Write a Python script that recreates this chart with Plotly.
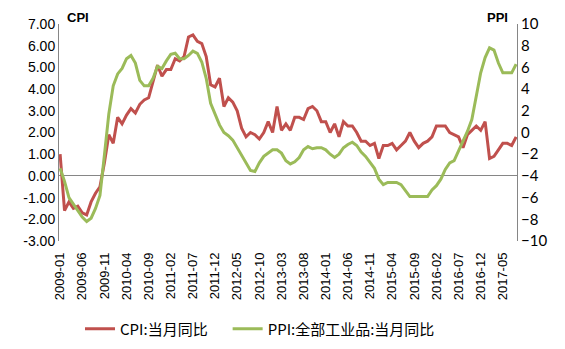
import plotly.graph_objects as go

months = [f"{y}-{m:02d}" for y in range(2009, 2018) for m in range(1, 13)][:104]

cpi = [1.0, -1.6, -1.2, -1.5, -1.4, -1.7, -1.8, -1.2, -0.8, -0.5, 0.6, 1.9,
       1.5, 2.7, 2.4, 2.8, 3.1, 2.9, 3.3, 3.5, 3.6, 4.4, 5.1, 4.6,
       4.9, 4.9, 5.4, 5.3, 5.5, 6.4, 6.5, 6.2, 6.1, 5.5, 4.2, 4.1,
       4.5, 3.2, 3.6, 3.4, 3.0, 2.2, 1.8, 2.0, 1.9, 1.7, 2.0, 2.5,
       2.0, 3.2, 2.1, 2.4, 2.1, 2.7, 2.7, 2.6, 3.1, 3.2, 3.0, 2.5,
       2.5, 2.0, 2.4, 1.8, 2.5, 2.3, 2.3, 2.0, 1.6, 1.6, 1.4, 1.5,
       0.8, 1.4, 1.4, 1.5, 1.2, 1.4, 1.6, 2.0, 1.6, 1.3, 1.5, 1.6,
       1.8, 2.3, 2.3, 2.3, 2.0, 1.9, 1.8, 1.3, 1.9, 2.1, 2.3, 2.1,
       2.5, 0.8, 0.9, 1.2, 1.5, 1.5, 1.4, 1.8]

ppi = [-3.3, -4.5, -6.0, -6.6, -7.2, -7.8, -8.2, -7.9, -7.0, -5.8, -2.1, 1.7,
       4.3, 5.4, 5.9, 6.8, 7.1, 6.4, 4.8, 4.3, 4.3, 5.0, 6.1, 5.9,
       6.6, 7.2, 7.3, 6.8, 6.8, 7.1, 7.5, 7.3, 6.5, 5.0, 2.7, 1.7,
       0.7, 0.0, -0.3, -0.7, -1.4, -2.1, -2.9, -3.5, -3.6, -2.8, -2.2, -1.9,
       -1.6, -1.6, -1.9, -2.6, -2.9, -2.7, -2.3, -1.6, -1.3, -1.5, -1.4, -1.4,
       -1.6, -2.0, -2.3, -2.0, -1.4, -1.1, -0.9, -1.2, -1.8, -2.2, -2.7, -3.3,
       -4.3, -4.8, -4.6, -4.6, -4.6, -4.8, -5.4, -5.9, -5.9, -5.9, -5.9, -5.9,
       -5.3, -4.9, -4.3, -3.4, -2.8, -2.6, -1.7, -0.8, 0.1, 1.2, 3.3, 5.5,
       6.9, 7.8, 7.6, 6.4, 5.5, 5.5, 5.5, 6.3]

tick_labels = months[::5]

left_ticks = [7, 6, 5, 4, 3, 2, 1, 0, -1, -2, -3]
right_ticks = [10, 8, 6, 4, 2, 0, -2, -4, -6, -8, -10]

names = ["CPI:当月同比", "PPI:全部工业品:当月同比"]
colors = ["#C0504D", "#9BBB59"]

fig = go.Figure()
fig.add_trace(go.Scatter(x=months, y=cpi, name=names[0] + "\u3000", mode="lines",
                         line=dict(color=colors[0], width=3), yaxis="y"))
fig.add_trace(go.Scatter(x=months, y=ppi, name=names[1], mode="lines",
                         line=dict(color=colors[1], width=3), yaxis="y2"))

axis_font = dict(family="Liberation Sans, Arial, sans-serif", size=13, color="#000000")

fig.update_layout(
    width=565, height=349,
    margin=dict(l=59, r=48, t=24, b=108, autoexpand=False),
    paper_bgcolor="white", plot_bgcolor="white",
    showlegend=True,
    legend=dict(orientation="h", xref="container", yref="container",
                x=80 / 565, xanchor="left", y=1 - 329 / 349, yanchor="middle",
                font=dict(family="Noto Sans CJK SC", size=15, color="#000000"),
                itemwidth=30, bgcolor="rgba(0,0,0,0)"),
    xaxis=dict(type="category", categoryorder="array", categoryarray=months,
               range=[-0.25, 103.2], tickmode="array", tickvals=tick_labels,
               ticktext=tick_labels, tickangle=-90, showgrid=False, showline=False,
               zeroline=False, ticks="", tickfont=axis_font, anchor="free", position=0,
               automargin=False, ticklabelstandoff=8),
    yaxis=dict(range=[-3, 7], tickmode="array", tickvals=left_ticks,
               ticktext=[f"{v:.2f}" for v in left_ticks], showgrid=False,
               showline=True, linecolor="#868686", linewidth=1,
               zeroline=True, zerolinecolor="#868686", zerolinewidth=1,
               ticks="", automargin=False,
               tickfont=dict(family="Liberation Sans, Arial, sans-serif", size=14, color="#000000")),
    yaxis2=dict(range=[-10, 10], tickmode="array", tickvals=right_ticks,
                overlaying="y", side="right", showgrid=False,
                showline=True, linecolor="#868686", linewidth=1, zeroline=False,
                ticks="", automargin=False,
                tickfont=dict(family="Lato, sans-serif", size=15, color="#000000")),
    annotations=[
        dict(text="<b>CPI</b>", xref="paper", yref="paper", x=0.013, y=1.03,
             xanchor="left", yanchor="middle", showarrow=False,
             font=dict(family="Liberation Sans, Arial", size=13, color="#000000")),
        dict(text="<b>PPI</b>", xref="paper", yref="paper", x=0.985, y=1.03,
             xanchor="right", yanchor="middle", showarrow=False,
             font=dict(family="Liberation Sans, Arial", size=13, color="#000000")),
    ],
)

fig.write_html("out.html")
